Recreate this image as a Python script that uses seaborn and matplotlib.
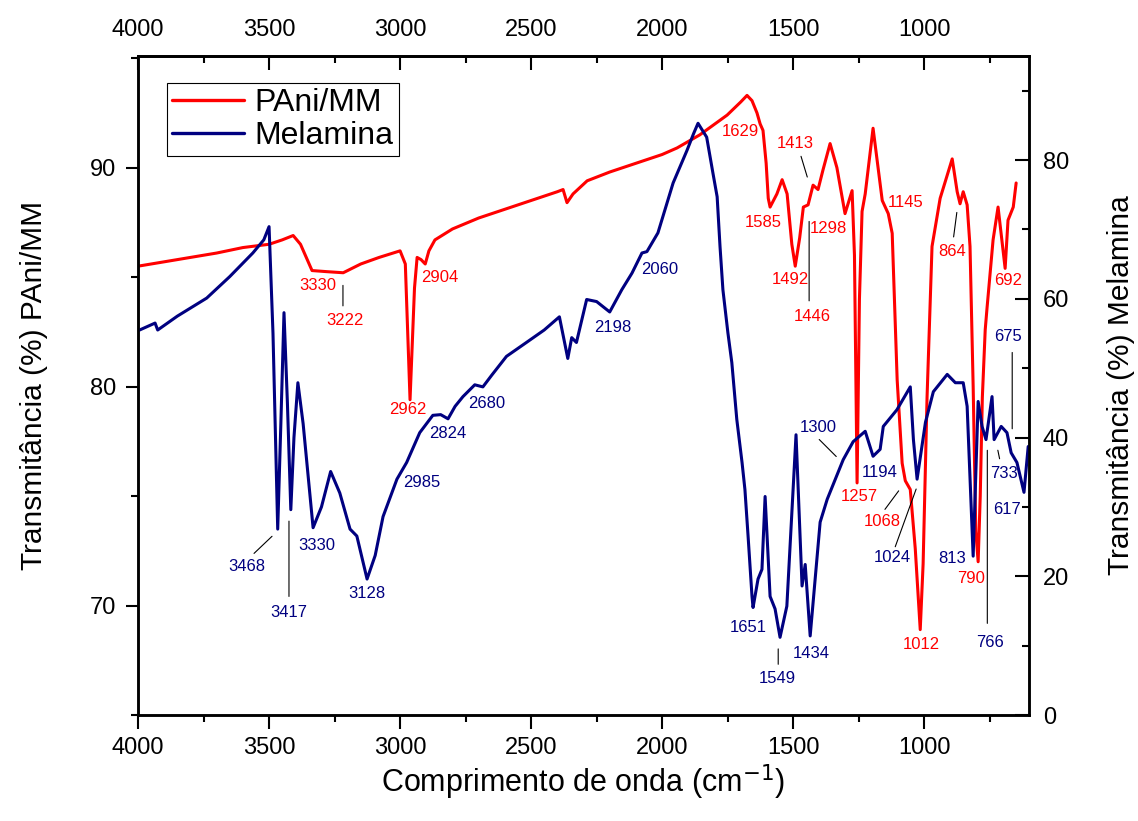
import matplotlib
matplotlib.use("Agg")
import matplotlib.pyplot as plt
from matplotlib.ticker import MultipleLocator
from matplotlib.lines import Line2D
import seaborn as sns
import pandas as pd

# PAni/MM spectrum (left axis)
red_wn = [4000, 3900, 3800, 3700, 3600, 3500, 3450, 3408, 3380, 3336,
          3280, 3217, 3150, 3080, 3000, 2980, 2962, 2945, 2935, 2920,
          2904, 2890, 2867, 2800, 2700, 2600, 2500, 2400, 2378, 2363,
          2340, 2286, 2200, 2100, 2000, 1943, 1856, 1752, 1700, 1676,
          1657, 1638, 1626, 1615, 1603, 1595, 1588, 1562, 1542, 1523,
          1505, 1492, 1475, 1461, 1443, 1424, 1405, 1386, 1359, 1333,
          1302, 1275, 1266, 1256, 1247, 1237, 1225, 1195, 1160, 1137,
          1122, 1103, 1084, 1072, 1053, 1034, 1015, 1004, 989, 970,
          939, 893, 874, 863, 851, 836, 825, 813, 803, 794,
          786, 778, 767, 760, 737, 718, 691, 680, 660, 649]
red_t = [85.5, 85.7, 85.9, 86.1, 86.35, 86.5, 86.7, 86.9, 86.5, 85.3,
         85.25, 85.2, 85.6, 85.9, 86.2, 85.6, 79.4, 84.5, 85.9, 85.8,
         85.6, 86.2, 86.7, 87.2, 87.7, 88.1, 88.5, 88.9, 89.0, 88.4,
         88.8, 89.4, 89.8, 90.2, 90.6, 90.9, 91.5, 92.4, 93.0, 93.3,
         93.06, 92.5, 92.0, 91.7, 90.2, 88.6, 88.2, 88.8, 89.45, 88.8,
         86.5, 85.5, 86.8, 88.2, 88.3, 89.2, 89.0, 89.9, 91.1, 90.0,
         87.9, 88.95, 86.0, 75.6, 84.0, 88.0, 88.8, 91.8, 88.5, 87.9,
         87.0, 80.3, 76.5, 75.7, 75.3, 72.6, 68.9, 71.9, 79.5, 86.4,
         88.6, 90.4, 88.9, 88.35, 88.9, 88.3, 86.4, 80.0, 73.4, 72.0,
         75.0, 79.5, 82.6, 83.6, 86.7, 88.2, 85.4, 87.6, 88.2, 89.3]

# Melamina spectrum (right axis)
blue_wn = [4000, 3935, 3925, 3850, 3738, 3650, 3562, 3520, 3500, 3485,
           3467, 3455, 3443, 3430, 3417, 3405, 3390, 3370, 3332, 3300,
           3265, 3230, 3191, 3165, 3126, 3095, 3065, 3012, 2975, 2925,
           2875, 2845, 2817, 2790, 2760, 2715, 2684, 2650, 2594, 2518,
           2450, 2392, 2360, 2345, 2327, 2288, 2250, 2200, 2154, 2115,
           2077, 2058, 2016, 1958, 1905, 1880, 1863, 1830, 1806, 1790,
           1779, 1768, 1749, 1734, 1715, 1695, 1684, 1672, 1657, 1653,
           1634, 1619, 1607, 1588, 1569, 1550, 1524, 1489, 1466, 1454,
           1435, 1397, 1370, 1309, 1271, 1225, 1195, 1168, 1156, 1104,
           1053, 1041, 1027, 995, 965, 912, 881, 851, 836, 813,
           794, 779, 764, 741, 733, 706, 684, 668, 646, 619,
           603]
blue_t = [55.4, 56.5, 55.5, 57.5, 60.1, 63.2, 66.6, 68.5, 70.4, 55.0,
          26.8, 42.0, 58.0, 45.0, 29.6, 40.0, 47.9, 42.0, 27.0, 30.0,
          35.1, 32.0, 26.8, 25.8, 19.6, 23.0, 28.6, 34.0, 36.4, 40.7,
          43.2, 43.3, 42.7, 44.5, 45.9, 47.6, 47.3, 49.0, 51.7, 53.7,
          55.5, 57.4, 51.4, 54.4, 53.7, 59.9, 59.6, 58.1, 61.3, 63.7,
          66.6, 66.8, 69.5, 76.7, 81.4, 83.8, 85.3, 83.3, 78.1, 74.7,
          67.5, 61.3, 55.1, 50.8, 42.6, 36.4, 32.5, 25.8, 17.1, 15.5,
          19.6, 21.0, 31.5, 17.1, 15.3, 11.2, 15.7, 40.4, 18.6, 21.7,
          11.4, 27.8, 31.1, 36.8, 39.4, 40.9, 37.3, 38.3, 41.6, 44.0,
          47.3, 39.7, 34.0, 42.2, 46.6, 49.1, 47.9, 47.9, 44.5, 22.9,
          45.2, 41.6, 39.7, 45.9, 39.7, 41.6, 40.7, 37.8, 36.4, 32.1,
          38.7]

# peak labels: text, label x, label y, optional leader line (x1, y1, x2, y2)
red_labels = [
    ("3330", 3313, 84.6, None),
    ("3222", 3210, 83.0, (3218, 84.75, 3218, 83.56)),
    ("2904", 2847, 85.0, None),
    ("2962", 2969, 78.95, None),
    ("1629", 1702, 91.64, None),
    ("1413", 1492, 91.1, (1473, 90.64, 1443, 89.45)),
    ("1585", 1614, 87.49, None),
    ("1298", 1366, 87.21, None),
    ("1492", 1511, 84.89, None),
    ("1446", 1427, 83.2, (1439, 87.67, 1439, 83.79)),
    ("1145", 1069, 88.4, None),
    ("864", 893, 86.16, (874, 88.08, 889, 86.71)),
    ("692", 679, 84.84, None),
    ("1257", 1248, 74.98, None),
    ("1068", 1160, 73.84, (1091, 75.34, 1156, 74.29)),
    ("1012", 1011, 68.22, None),
    ("790", 820, 71.23, None),
]
blue_labels = [
    ("3468", 3584, 21.44, (3565, 23.02, 3481, 26.04)),
    ("3417", 3424, 14.82, (3424, 28.35, 3424, 16.69)),
    ("3330", 3317, 24.46, None),
    ("3128", 3126, 17.55, None),
    ("2985", 2916, 33.53, None),
    ("2824", 2817, 40.58, None),
    ("2680", 2668, 44.89, None),
    ("2198", 2187, 55.83, None),
    ("2060", 2011, 64.17, None),
    ("675", 679, 54.53, (664, 52.66, 664, 40.86)),
    ("1300", 1404, 41.44, (1408, 40.0, 1328, 36.98)),
    ("1194", 1168, 34.96, None),
    ("1024", 1122, 22.73, (1114, 23.88, 1027, 32.95)),
    ("813", 893, 22.59, None),
    ("766", 748, 10.5, (759, 38.56, 759, 12.81)),
    ("733", 695, 34.82, (721, 38.56, 710, 36.55)),
    ("617", 683, 29.64, None),
    ("1651", 1672, 12.66, None),
    ("1549", 1561, 5.32, (1557, 9.93, 1557, 6.91)),
    ("1434", 1431, 8.92, None),
]

RED = "#ff0000"
BLUE = "#000080"

sns.set_style("ticks")
plt.rcParams["font.family"] = ["Liberation Sans", "DejaVu Sans"]
plt.rcParams.update({"text.color": "black", "axes.labelcolor": "black",
                     "xtick.color": "black", "ytick.color": "black",
                     "axes.edgecolor": "black"})

df_red = pd.DataFrame({"wn": red_wn, "t": red_t})
df_blue = pd.DataFrame({"wn": blue_wn, "t": blue_t})

fig = plt.figure(figsize=(11.38, 8.21), dpi=100)
ax = fig.add_axes([0.1213, 0.1291, 0.7829, 0.8027])
ax2 = ax.twinx()

sns.lineplot(data=df_red, x="wn", y="t", ax=ax, color=RED, lw=2.2,
             estimator=None, sort=False)
sns.lineplot(data=df_blue, x="wn", y="t", ax=ax2, color=BLUE, lw=2.2,
             estimator=None, sort=False)

ax.set_xlim(4000, 600)
ax.set_ylim(65, 95.1)
ax2.set_ylim(0, 95)

ax.xaxis.set_major_locator(MultipleLocator(500))
ax.xaxis.set_minor_locator(MultipleLocator(250))
ax.yaxis.set_major_locator(MultipleLocator(10))
ax.yaxis.set_minor_locator(MultipleLocator(5))
ax2.yaxis.set_major_locator(MultipleLocator(20))
ax2.yaxis.set_minor_locator(MultipleLocator(10))

# bottom and left ticks point out, top and right point in
ax.tick_params(axis="x", which="major", direction="out", length=10, width=1.5,
               labelsize=17, pad=6, top=False)
ax.tick_params(axis="x", which="minor", direction="out", length=5, width=1.5,
               top=False)
ax.tick_params(axis="y", which="major", direction="out", length=9, width=1.5,
               labelsize=17, pad=7)
ax.tick_params(axis="y", which="minor", direction="out", length=5, width=1.5)
ax2.tick_params(axis="y", which="major", direction="in", length=10, width=1.5,
                labelsize=17, pad=10)
ax2.tick_params(axis="y", which="minor", direction="in", length=5, width=1.5)

top = ax.secondary_xaxis("top")
top.xaxis.set_major_locator(MultipleLocator(500))
top.xaxis.set_minor_locator(MultipleLocator(250))
top.tick_params(axis="x", which="major", direction="in", length=10, width=1.5,
                labelsize=17, pad=11)
top.tick_params(axis="x", which="minor", direction="in", length=5, width=1.5)

for a in (ax, ax2, top):
    for s in a.spines.values():
        s.set_linewidth(1.8)
        s.set_color("black")

ax.set_xlabel("Comprimento de onda (cm$^{-1}$)", fontsize=22, labelpad=2)
ax.set_ylabel("Transmitância (%) PAni/MM", fontsize=21.5, labelpad=30)
ax2.set_ylabel("Transmitância (%) Melamina", fontsize=21.5, labelpad=27)

for txt, x, y, leader in red_labels:
    ax.text(x, y, txt, color=RED, fontsize=12, ha="center", va="center")
    if leader:
        ax.annotate("", xy=leader[2:], xytext=leader[:2],
                    arrowprops=dict(arrowstyle="-", color="black", lw=0.8))
for txt, x, y, leader in blue_labels:
    ax2.text(x, y, txt, color=BLUE, fontsize=12, ha="center", va="center")
    if leader:
        ax2.annotate("", xy=leader[2:], xytext=leader[:2],
                     arrowprops=dict(arrowstyle="-", color="black", lw=0.8))

handles = [Line2D([], [], color=RED, lw=2.4), Line2D([], [], color=BLUE, lw=2.4)]
leg = ax2.legend(handles, ["PAni/MM", "Melamina"], loc="upper left",
                 bbox_to_anchor=(0.0325, 0.959), fontsize=23, frameon=True,
                 fancybox=False, edgecolor="black", handlelength=2.25,
                 borderpad=0.15, labelspacing=0.1, handletextpad=0.35,
                 borderaxespad=0, framealpha=1)
leg.get_frame().set_linewidth(0.8)

fig.savefig("out.png", dpi=100)
